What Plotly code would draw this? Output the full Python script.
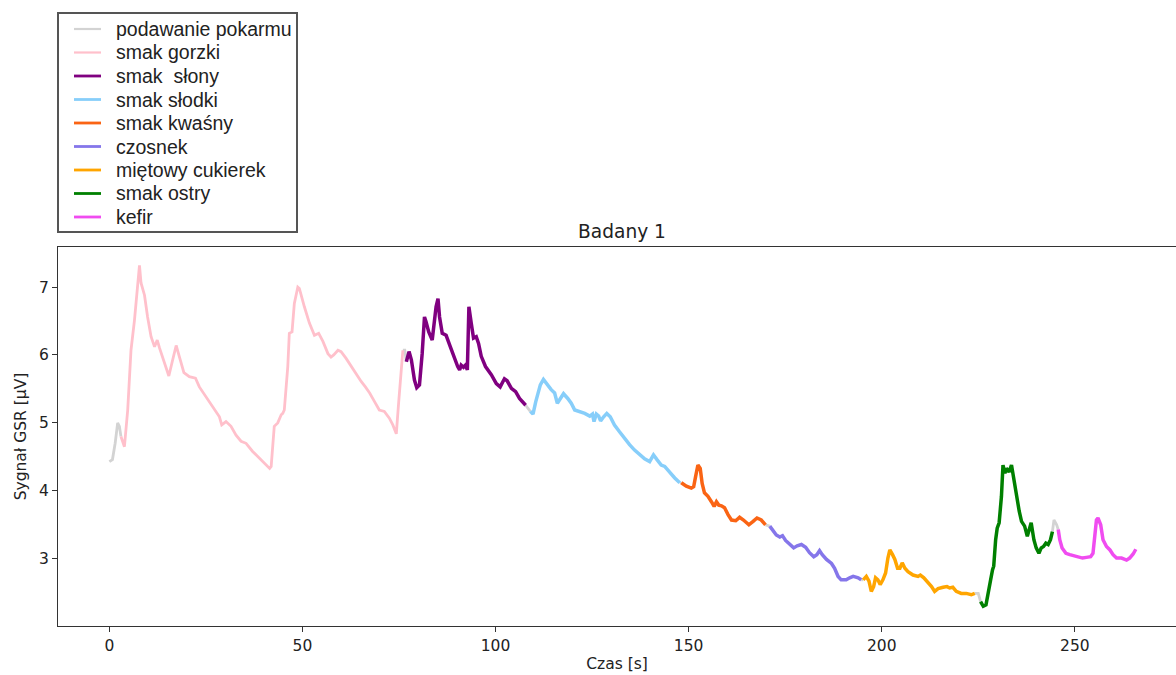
import plotly.graph_objects as go

# ---- data (time [s], GSR [uV]) ----
labels = ["podawanie pokarmu", "smak gorzki", "smak\u00a0\u00a0słony", "smak słodki",
          "smak kwaśny", "czosnek", "miętowy cukierek", "smak ostry", "kefir"]
colors = ["#d3d3d3", "#ffc0cb", "#800080", "#87cefa", "#fa6414",
          "#8576ea", "#ffa500", "#008000", "#f04cf0"]

# podawanie pokarmu (several short pieces)
t_pod = [[0.0, 0.8, 1.5, 2.15, 2.6, 3.0],
         [76.0, 76.5, 76.9],
         [107.8, 108.4, 109.0],
         [147.7, 148.1],
         [169.9, 170.4, 171.0],
         [194.7, 195.2],
         [224.1, 225.0, 225.6],
         [244.2, 244.6, 245.3, 245.7]]
v_pod = [[4.43, 4.46, 4.70, 5.00, 4.95, 4.80],
         [6.07, 6.07, 5.90],
         [5.26, 5.22, 5.17],
         [4.12, 4.12],
         [3.50, 3.49, 3.48],
         [2.69, 2.69],
         [2.49, 2.49, 2.37],
         [3.40, 3.57, 3.50, 3.43]]

t_gorzki = [3.0, 3.9, 4.75, 5.6, 6.5, 6.9, 7.8, 8.2, 9.1, 9.9, 10.8, 11.7, 12.4, 13.0, 14.2,
            15.4, 16.4, 17.3, 18.1, 19.3, 20.7, 22.3, 23.3, 25.0, 26.8, 28.5, 29.1, 30.2,
            31.5, 32.8, 34.1, 35.4, 37.1, 38.9, 40.2, 41.5, 41.9, 42.7, 43.6, 44.5, 44.9,
            45.3, 46.2, 46.6, 47.3, 47.9, 48.8, 49.2, 50.5, 51.8, 53.1, 54.2, 55.3, 56.6,
            57.4, 58.1, 59.2, 60.0, 61.3, 62.6, 63.9, 65.2, 66.3, 67.4, 68.7, 69.9, 71.2,
            72.5, 73.4, 74.3, 74.9, 75.6, 76.0]
v_gorzki = [4.80, 4.65, 5.19, 6.07, 6.51, 6.80, 7.32, 7.06, 6.88, 6.56, 6.27, 6.12, 6.22, 6.10,
            5.88, 5.69, 5.93, 6.14, 5.98, 5.74, 5.68, 5.66, 5.53, 5.39, 5.24, 5.09, 4.97, 5.02,
            4.95, 4.82, 4.73, 4.70, 4.58, 4.48, 4.41, 4.33, 4.36, 4.95, 5.00, 5.12, 5.14,
            5.19, 5.83, 6.32, 6.34, 6.76, 7.00, 6.98, 6.71, 6.47, 6.29, 6.32, 6.20, 6.02,
            5.97, 6.00, 6.07, 6.05, 5.95, 5.83, 5.73, 5.61, 5.53, 5.44, 5.31, 5.19, 5.17,
            5.07, 4.97, 4.84, 5.29, 5.88, 6.07]

t_slony = [76.9, 77.6, 78.2, 79.0, 79.6, 80.3, 81.0, 81.6, 82.0, 82.7, 83.6, 84.2, 84.6, 85.1,
           85.5, 86.2, 87.2, 88.3, 89.4, 90.2, 90.7, 91.1, 91.7, 92.2, 92.7, 93.1, 93.7, 94.3,
           95.0, 95.6, 96.3, 97.4, 98.9, 100.2, 101.2, 102.3, 103.0, 104.1, 105.2, 106.2, 107.8]
v_slony = [5.90, 6.05, 5.93, 5.63, 5.52, 5.56, 6.02, 6.56, 6.49, 6.34, 6.22, 6.51, 6.71, 6.83,
           6.56, 6.32, 6.29, 6.12, 5.93, 5.83, 5.78, 5.85, 5.82, 5.85, 5.78, 6.71, 6.47, 6.25,
           6.27, 6.17, 5.98, 5.83, 5.71, 5.58, 5.53, 5.65, 5.62, 5.51, 5.46, 5.36, 5.26]

t_slodki = [109.0, 109.7, 110.4, 111.0, 111.6, 112.4, 113.1, 114.4, 115.3, 116.0, 116.8, 117.6,
            118.7, 119.6, 120.5, 121.8, 123.1, 124.4, 125.1, 125.5, 126.1, 126.7, 127.2, 128.0,
            128.8, 129.7, 130.8, 132.1, 133.4, 134.7, 136.0, 137.3, 138.6, 139.9, 140.9, 141.8,
            142.9, 143.8, 145.1, 146.4, 147.7]
v_slodki = [5.17, 5.13, 5.31, 5.46, 5.56, 5.64, 5.58, 5.49, 5.44, 5.29, 5.36, 5.43,
            5.36, 5.29, 5.19, 5.17, 5.14, 5.10, 5.13, 5.02, 5.13, 5.10, 5.03, 5.09,
            5.14, 5.09, 4.97, 4.87, 4.77, 4.68, 4.60, 4.54, 4.47, 4.43, 4.53, 4.46,
            4.38, 4.36, 4.27, 4.19, 4.12]

t_kwasny = [148.1, 149.4, 150.7, 151.3, 151.8, 152.4, 153.0, 153.5, 154.1, 155.0, 155.9, 156.6,
            157.2, 157.8, 158.5, 159.3, 160.2, 161.1, 162.2, 163.2, 164.2, 165.6, 166.7, 167.7,
            168.8, 169.9]
v_kwasny = [4.12, 4.07, 4.04, 4.06, 4.21, 4.38, 4.33, 4.11, 3.97, 3.92, 3.84, 3.77,
            3.84, 3.79, 3.78, 3.75, 3.65, 3.57, 3.56, 3.61, 3.57, 3.50, 3.55, 3.60,
            3.57, 3.50]

t_czosnek = [171.0, 171.8, 172.7, 173.6, 174.3, 175.1, 176.0, 177.2, 178.1, 179.2, 180.3, 181.3,
             182.4, 183.2, 183.9, 184.6, 185.7, 187.0, 187.8, 188.7, 189.5, 190.8, 191.7, 192.6,
             193.9, 194.7]
v_czosnek = [3.48, 3.42, 3.35, 3.32, 3.34, 3.27, 3.22, 3.16, 3.19, 3.21, 3.17, 3.09,
             3.03, 3.06, 3.12, 3.06, 2.99, 2.93, 2.86, 2.74, 2.69, 2.69, 2.72, 2.74,
             2.72, 2.69]

t_cukierek = [195.2, 196.0, 196.7, 197.3, 197.9, 198.4, 199.0, 199.6, 200.3, 201.0, 201.6, 202.1,
              202.8, 203.4, 204.1, 204.7, 205.3, 206.0, 206.8, 208.1, 209.4, 210.0, 210.9, 212.0,
              212.9, 213.7, 214.6, 215.9, 216.9, 217.6, 218.4, 219.3, 220.6, 221.9, 223.2, 224.1]
v_cukierek = [2.69, 2.74, 2.67, 2.52, 2.59, 2.72, 2.69, 2.62, 2.69, 2.79, 3.01, 3.13,
              3.06, 2.99, 2.86, 2.86, 2.94, 2.86, 2.81, 2.76, 2.74, 2.76, 2.72, 2.65,
              2.59, 2.52, 2.56, 2.58, 2.59, 2.57, 2.58, 2.52, 2.49, 2.49, 2.47, 2.49]

t_ostry = [225.6, 226.3, 227.0, 227.5, 228.2, 228.7, 229.0, 229.5, 229.9, 230.4, 231.0, 231.4,
           231.9, 232.3, 233.0, 233.6, 234.2, 234.9, 235.6, 236.2, 237.0, 237.7, 238.3, 238.7,
           239.4, 240.0, 240.7, 241.3, 241.9, 242.5, 243.1, 243.7, 244.2]
v_ostry = [2.37, 2.30, 2.32, 2.45, 2.69, 2.84, 2.89, 3.28, 3.45, 3.53, 3.92, 4.38,
           4.26, 4.33, 4.28, 4.38, 4.16, 3.89, 3.70, 3.55, 3.48, 3.33, 3.45, 3.53,
           3.28, 3.16, 3.08, 3.16, 3.18, 3.23, 3.21, 3.28, 3.40]

t_kefir = [245.7, 246.1, 246.7, 247.7, 248.7, 250.0, 250.9, 252.0, 253.0, 254.1, 254.7, 255.2,
           255.6, 256.0, 256.7, 257.3, 258.2, 259.1, 259.9, 260.8, 262.1, 263.4, 264.2, 265.1,
           265.8]
v_kefir = [3.43, 3.28, 3.16, 3.08, 3.06, 3.04, 3.03, 3.01, 3.02, 3.03, 3.08, 3.33,
           3.57, 3.60, 3.50, 3.28, 3.18, 3.13, 3.06, 3.01, 3.01, 2.98, 3.01, 3.07,
           3.14]

x_ticks = [0, 50, 100, 150, 200, 250]
y_ticks = [3, 4, 5, 6, 7]

segments = [(t_gorzki, v_gorzki), (t_slony, v_slony), (t_slodki, v_slodki),
            (t_kwasny, v_kwasny), (t_czosnek, v_czosnek), (t_cukierek, v_cukierek),
            (t_ostry, v_ostry), (t_kefir, v_kefir)]
widths = [2.8, 2.8, 3.5, 3.5, 3.5, 3.5, 3.5, 3.5, 3.5]
legend_widths = [2.2, 2.2, 2.8, 2.8, 2.8, 2.8, 2.8, 2.8, 2.8]

W, H = 1176, 675
ML, MR, MT, MB = 58, 0, 247, 49
PW, PH = W - ML - MR, H - MT - MB


def px_x(p):
    return (p - ML) / PW


def px_y(p):
    return (H - MB - p) / PH


fig = go.Figure()
for i, (tt, vv) in enumerate(zip(t_pod, v_pod)):
    fig.add_trace(go.Scatter(x=tt, y=vv, mode="lines", name=labels[0],
                             legendgroup="pod", showlegend=False,
                             line=dict(color=colors[0], width=widths[0])))
for k, (tt, vv) in enumerate(segments, start=1):
    fig.add_trace(go.Scatter(x=tt, y=vv, mode="lines", name=labels[k], showlegend=False,
                             line=dict(color=colors[k], width=widths[k])))

# legend box drawn in matplotlib style (tight rows) above the axes
shapes = [dict(type="rect", xref="paper", yref="paper",
               x0=px_x(58), x1=px_x(297), y0=px_y(232), y1=px_y(13),
               line=dict(color="#555", width=2), fillcolor="white", layer="above")]
annotations = []
row0, dy = 29, 23.5
for i, (lab, col) in enumerate(zip(labels, colors)):
    yy = row0 + i * dy
    shapes.append(dict(type="line", xref="paper", yref="paper",
                       x0=px_x(74), x1=px_x(101), y0=px_y(yy), y1=px_y(yy),
                       line=dict(color=col, width=legend_widths[i]), layer="above"))
    annotations.append(dict(text=lab, xref="paper", yref="paper", x=px_x(114), y=px_y(yy),
                            xanchor="left", yanchor="middle", showarrow=False,
                            font=dict(family="Liberation Sans", size=19.5, color="#222")))

axis_font = dict(family="DejaVu Sans", size=15.5, color="#222")
fig.update_layout(
    width=W, height=H,
    margin=dict(l=ML, r=MR, t=MT, b=MB),
    paper_bgcolor="white", plot_bgcolor="white",
    title=dict(text="Badany 1", xref="paper", x=px_x(622), xanchor="center",
               y=1 - 231 / H, yanchor="middle",
               font=dict(family="DejaVu Sans", size=18.6, color="#222")),
    shapes=shapes, annotations=annotations,
    xaxis=dict(range=[-13.3, 276.2], tickvals=x_ticks, ticktext=[str(v) for v in x_ticks],
               showgrid=False, zeroline=False, showline=True, linecolor="#333", linewidth=1.3,
               mirror=True, ticks="outside", ticklen=5, tickcolor="#333", tickfont=axis_font,
               title=dict(text="Czas [s]", font=axis_font, standoff=4)),
    yaxis=dict(range=[2.01, 7.59], tickvals=y_ticks, ticktext=[str(v) for v in y_ticks],
               showgrid=False, zeroline=False, showline=True, linecolor="#333", linewidth=1.3,
               mirror=False, ticks="outside", ticklen=5, tickcolor="#333", tickfont=axis_font,
               title=dict(text="Sygnał GSR [µV]", font=axis_font, standoff=8)),
)

fig.write_html("out.html", config={"displayModeBar": False},
               post_script="document.body.style.margin='0';document.body.style.overflow='hidden';")
